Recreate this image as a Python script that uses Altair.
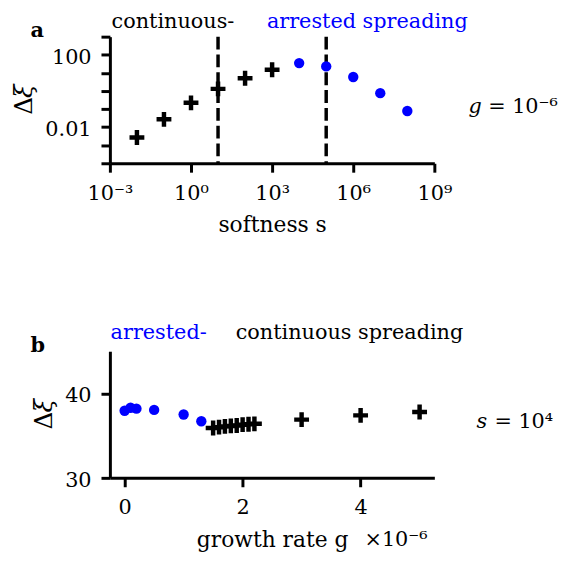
import altair as alt
import pandas as pd

# ---------------- panel a data ----------------
a_cross_s = [0.01, 0.1, 1, 10, 100, 1000]
a_cross_dxi = [0.00265, 0.027, 0.22, 1.3, 5.0, 14.8]
a_circ_s = [1e4, 1e5, 1e6, 1e7, 1e8]
a_circ_dxi = [34.5, 22.6, 5.9, 0.75, 0.078]
a_dashed_s = [10, 1e5]
a_x_exps = [-3, 0, 3, 6, 9]
a_x_tick_labels = ["10⁻³", "10⁰", "10³", "10⁶", "10⁹"]
a_y_exps = [-4, -3, -2, -1, 0, 1, 2, 3]
a_y_tick_labels = ["", "", "0.01", "", "", "", "100", ""]

# ---------------- panel b data ----------------
b_circ_g = [0, 0.1, 0.2, 0.5, 1.0, 1.3]
b_circ_dxi = [37.95, 38.3, 38.2, 38.05, 37.5, 36.7]
b_cross_g = [1.5, 1.6, 1.7, 1.8, 1.9, 2.0, 2.1, 2.2, 3, 4, 5]
b_cross_dxi = [35.9, 36.0, 36.1, 36.15, 36.2, 36.3, 36.35, 36.4, 36.9, 37.4, 37.8]
b_x_ticks = [0, 2, 4]
b_y_ticks = [30, 40]

FONT = "DejaVu Serif"
FS = 21
BLUE = "#0000ff"
W, H = 328, 128
PLUS = "M-0.3,-1L0.3,-1L0.3,-0.3L1,-0.3L1,0.3L0.3,0.3L0.3,1L-0.3,1L-0.3,0.3L-1,0.3L-1,-0.3L-0.3,-0.3Z"


def exp_label_expr(exps, labels):
    expr = "''"
    for e, l in reversed(list(zip(exps, labels))):
        expr = f"(round(log(datum.value)/LN10) == {e} ? '{l}' : {expr})"
    return expr


one = pd.DataFrame({"d": [0]})


def txt(text, x, y, color="black", weight="normal", style="normal", size=FS, angle=0):
    return alt.Chart(one).mark_text(
        text=text, align="left", baseline="alphabetic", font=FONT, fontSize=size,
        color=color, fontWeight=weight, fontStyle=style, angle=angle
    ).encode(x=alt.value(x), y=alt.value(y))


def ylabel(x, y_bottom):
    # rotated "Δξ" axis label, reading upwards
    return [
        txt("Δ", x, y_bottom, size=25, angle=270),
        txt("ξ", x, y_bottom - 17, size=25, angle=270, style="italic"),
    ]


# ---------------- panel a ----------------
xs_a = alt.Scale(type="log", domain=[1e-3, 1e9], nice=False)
ys_a = alt.Scale(type="log", domain=[1e-4, 1e3], nice=False)

x_axis_a = alt.Axis(
    values=[10.0 ** e for e in a_x_exps],
    labelExpr=exp_label_expr(a_x_exps, a_x_tick_labels),
    title="softness s", titleY=69, titleBaseline="alphabetic",
    labelBaseline="alphabetic", labelPadding=27.5,
)
y_axis_a = alt.Axis(
    values=[10.0 ** e for e in a_y_exps],
    labelExpr=exp_label_expr(a_y_exps, a_y_tick_labels),
    title=None, labelPadding=10, labelBaseline="alphabetic", labelOffset=8.5,
)

df_a_cross = pd.DataFrame({"s": a_cross_s, "dxi": a_cross_dxi})
df_a_circ = pd.DataFrame({"s": a_circ_s, "dxi": a_circ_dxi})
df_a_rule = pd.DataFrame({"s": a_dashed_s})

a_rules = alt.Chart(df_a_rule).mark_rule(
    color="black", strokeWidth=3.5, strokeDash=[13, 5]
).encode(x=alt.X("s:Q", scale=xs_a, axis=x_axis_a))
a_cross = alt.Chart(df_a_cross).mark_point(
    shape=PLUS, filled=True, color="black", size=225, opacity=1
).encode(x=alt.X("s:Q", scale=xs_a, axis=x_axis_a),
         y=alt.Y("dxi:Q", scale=ys_a, axis=y_axis_a))
a_circ = alt.Chart(df_a_circ).mark_point(
    shape="circle", filled=True, color=BLUE, size=110, opacity=1
).encode(x=alt.X("s:Q", scale=xs_a, axis=x_axis_a),
         y=alt.Y("dxi:Q", scale=ys_a, axis=y_axis_a))

panel_a = alt.layer(
    a_rules, a_cross, a_circ,
    txt("continuous-", 1.7, -9),
    txt("arrested spreading", 158.7, -9, color=BLUE),
    txt("a", -80.3, 0.3, weight="bold"),
    txt("g", 362.4, 77, style="italic"),
    txt("= 10⁻⁶", 382.4, 77),
    *ylabel(-79, 79),
).properties(width=W, height=H)

# ---------------- panel b ----------------
xs_b = alt.Scale(domain=[-0.25, 5.25], nice=False, zero=False)
ys_b = alt.Scale(domain=[30, 45], nice=False, zero=False)

x_axis_b = alt.Axis(
    values=b_x_ticks, format="d",
    title="growth rate g", titleY=69, titleBaseline="alphabetic",
    labelBaseline="alphabetic", labelPadding=27.5,
)
y_axis_b = alt.Axis(
    values=b_y_ticks, format="d",
    title=None, labelPadding=10, labelBaseline="alphabetic", labelOffset=8.5,
)

df_b_circ = pd.DataFrame({"g": b_circ_g, "dxi": b_circ_dxi})
df_b_cross = pd.DataFrame({"g": b_cross_g, "dxi": b_cross_dxi})

b_circ = alt.Chart(df_b_circ).mark_point(
    shape="circle", filled=True, color=BLUE, size=110, opacity=1
).encode(x=alt.X("g:Q", scale=xs_b, axis=x_axis_b),
         y=alt.Y("dxi:Q", scale=ys_b, axis=y_axis_b))
b_cross = alt.Chart(df_b_cross).mark_point(
    shape=PLUS, filled=True, color="black", size=225, opacity=1
).encode(x=alt.X("g:Q", scale=xs_b, axis=x_axis_b),
         y=alt.Y("dxi:Q", scale=ys_b, axis=y_axis_b))

panel_b = alt.layer(
    b_circ, b_cross,
    txt("arrested-", 0.7, -12, color=BLUE),
    txt("continuous spreading", 127.2, -12),
    txt("b", -80.3, 0.7, weight="bold"),
    txt("s", 370.7, 77.3, style="italic"),
    txt("= 10⁴", 388.7, 77.3),
    txt("×10⁻⁶", 257.4, 197),
    *ylabel(-59, 79),
).properties(width=W, height=H)

chart = alt.vconcat(panel_a, panel_b, spacing=190, bounds="flush").properties(
    padding={"left": 4, "top": 0, "right": 0, "bottom": 0}
).configure_view(stroke=None).configure_axis(
    labelFont=FONT, labelFontSize=FS, labelColor="black",
    titleFont=FONT, titleFontSize=22, titleFontWeight="normal", titleColor="black",
    domainColor="black", domainWidth=3, tickColor="black", tickWidth=3, tickSize=9,
    grid=False, labelAngle=0, labelFlush=False, labelOverlap=False,
)

chart.save("out.html", embed_options={"renderer": "svg", "actions": False})
